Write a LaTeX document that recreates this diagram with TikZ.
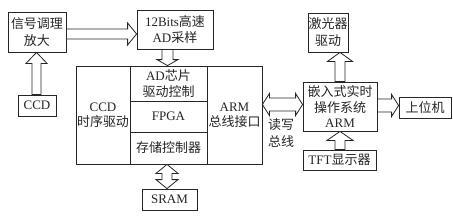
\documentclass[tikz,border=0pt]{standalone}
\usepackage{fontspec}
\setmainfont{Liberation Serif}
\newfontfamily\cjk{Noto Sans CJK SC}
\usetikzlibrary{calc}
\tikzset{
  box/.style={draw=black!85, line width=0.8pt, inner sep=0pt, align=center,
    font=\fontsize{13}{15.5}\selectfont, text=black!85},
  conn/.style={draw=black!85, line width=0.8pt, fill=white, line join=miter},
}
% right-pointing hollow arrow: #1 start, #2 tip, #3 y, #4 half shaft, #5 half head, #6 head length
\newcommand\arrR[6]{\draw[conn] let \p1=(#1), \p2=(#2), \p3=(0,#3) in
  (\x1,\y3+#4pt) -- (\x2-#6pt,\y3+#4pt) -- (\x2-#6pt,\y3+#5pt) -- (\x2,\y3)
  -- (\x2-#6pt,\y3-#5pt) -- (\x2-#6pt,\y3-#4pt) -- (\x1,\y3-#4pt) -- cycle;}
% up-pointing hollow arrow: #1 start (lower), #2 tip (upper), #3 x
\newcommand\arrU[6]{\draw[conn] let \p1=(#1), \p2=(#2), \p3=(#3,0) in
  (\x3-#4pt,\y1) -- (\x3-#4pt,\y2-#6pt) -- (\x3-#5pt,\y2-#6pt) -- (\x3,\y2)
  -- (\x3+#5pt,\y2-#6pt) -- (\x3+#4pt,\y2-#6pt) -- (\x3+#4pt,\y1) -- cycle;}
% down-pointing hollow arrow: #1 start (upper), #2 tip (lower), #3 x
\newcommand\arrD[6]{\draw[conn] let \p1=(#1), \p2=(#2), \p3=(#3,0) in
  (\x3-#4pt,\y1) -- (\x3-#4pt,\y2+#6pt) -- (\x3-#5pt,\y2+#6pt) -- (\x3,\y2)
  -- (\x3+#5pt,\y2+#6pt) -- (\x3+#4pt,\y2+#6pt) -- (\x3+#4pt,\y1) -- cycle;}
% vertical double hollow arrow: #1 upper tip, #2 lower tip, #3 x
\newcommand\arrV[6]{\draw[conn] let \p1=(#1), \p2=(#2), \p3=(#3,0) in
  (\x3,\y1) -- (\x3+#5pt,\y1-#6pt) -- (\x3+#4pt,\y1-#6pt) -- (\x3+#4pt,\y2+#6pt)
  -- (\x3+#5pt,\y2+#6pt) -- (\x3,\y2) -- (\x3-#5pt,\y2+#6pt) -- (\x3-#4pt,\y2+#6pt)
  -- (\x3-#4pt,\y1-#6pt) -- (\x3-#5pt,\y1-#6pt) -- cycle;}
% horizontal double hollow arrow: #1 left tip, #2 right tip, #3 y
\newcommand\arrH[6]{\draw[conn] let \p1=(#1), \p2=(#2), \p3=(0,#3) in
  (\x1,\y3) -- (\x1+#6pt,\y3+#5pt) -- (\x1+#6pt,\y3+#4pt) -- (\x2-#6pt,\y3+#4pt)
  -- (\x2-#6pt,\y3+#5pt) -- (\x2,\y3) -- (\x2-#6pt,\y3-#5pt) -- (\x2-#6pt,\y3-#4pt)
  -- (\x1+#6pt,\y3-#4pt) -- (\x1+#6pt,\y3-#5pt) -- cycle;}
\begin{document}
\begin{tikzpicture}[x=1pt,y=-1pt]
\useasboundingbox (0,0) rectangle (453,220);
\fill[white] (0,0) rectangle (453,220);

\node[box, minimum width=58pt, minimum height=40pt, font=\fontsize{13}{17}\selectfont] (sig) at (37,32) {{\cjk 信号调理}\\{\cjk 放大}};
\node[box, minimum width=76pt, minimum height=39pt] (ad) at (175,29.5) {12Bits{\cjk 高速}\\AD{\cjk 采样}};
\node[box, minimum width=38pt, minimum height=21pt] (ccd) at (37,105.5) {CCD};

\node[box, minimum width=54pt, minimum height=98pt] (lcell) at (103,115) {CCD\\{\cjk 时序驱动}};
\node[box, minimum width=77pt, minimum height=35pt] (mid1) at (168.5,83.5) {AD{\cjk 芯片}\\{\cjk 驱动控制}};
\node[box, minimum width=77pt, minimum height=31pt] (mid2) at (168.5,116.5) {FPGA};
\node[box, minimum width=77pt, minimum height=32pt] (mid3) at (168.5,148) {{\cjk 存储控制器}};
\node[box, minimum width=55pt, minimum height=98pt] (rcell) at (234.5,115) {ARM\\{\cjk 总线接口}};

\node[box, minimum width=55pt, minimum height=21pt] (sram) at (169.5,199.5) {SRAM};

\node[box, minimum width=40pt, minimum height=39pt, font=\fontsize{13}{17}\selectfont] (laser) at (328,32.5) {{\cjk 激光器}\\{\cjk 驱动}};
\node[box, minimum width=74pt, minimum height=49pt] (arm) at (340,106.5) {{\cjk 嵌入式实时}\\{\cjk 操作系统}\\ARM};
\node[box, minimum width=52pt, minimum height=21pt] (upper) at (425,107.5) {{\cjk 上位机}};
\node[box, minimum width=73pt, minimum height=20pt] (tft) at (339.5,160) {TFT{\cjk 显示器}};

\node[align=center, inner sep=0pt, text=black!85, font=\fontsize{13}{17}\selectfont] (bus) at (281,133.5) {{\cjk 读写}\\{\cjk 总线}};

\arrR{sig.east}{ad.west}{34}{5}{11}{9}
\arrU{ccd.north}{sig.south}{36.5}{4.5}{10.5}{11}
\arrD{ad.south}{mid1.north}{167.5}{5.5}{10.5}{6}
\arrV{mid3.south}{sram.north}{167}{5}{11}{9}
\arrH{rcell.east}{arm.west}{104.5}{6.5}{11}{7}
\arrR{arm.east}{upper.west}{105.5}{6.5}{11}{7}
\arrU{arm.north}{laser.south}{340}{5}{12.5}{9}
\arrU{tft.north}{arm.south}{340}{5}{13}{9}
\end{tikzpicture}
\end{document}
